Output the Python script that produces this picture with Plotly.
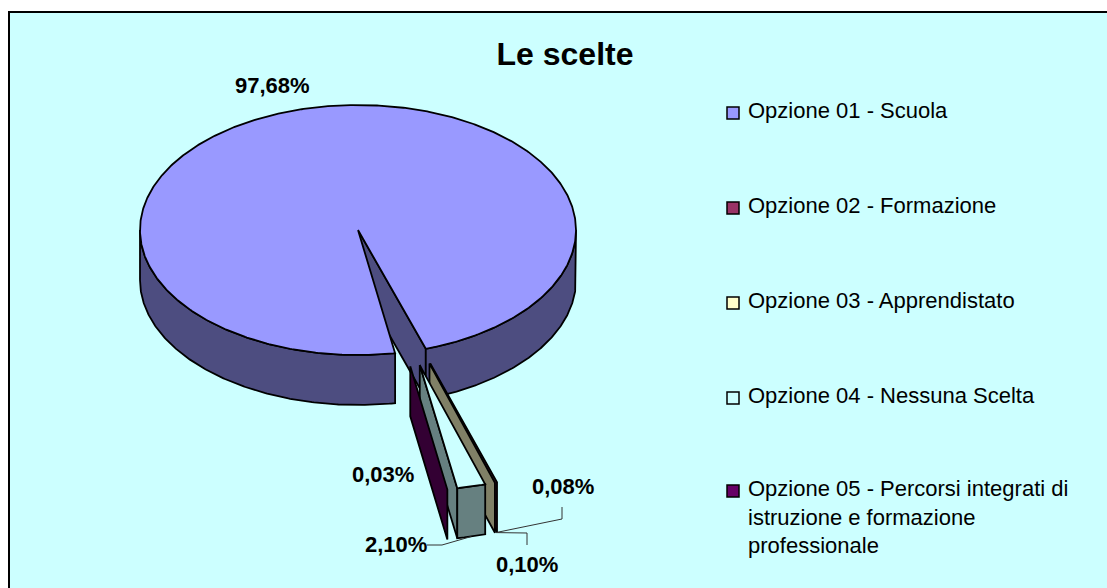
import math
import plotly.graph_objects as go

categories = ["Opzione 01 - Scuola", "Opzione 02 - Formazione", "Opzione 03 - Apprendistato",
              "Opzione 04 - Nessuna Scelta",
              "Opzione 05 - Percorsi integrati di<br>istruzione e formazione<br>professionale"]
values = [97.68, 0.08, 0.10, 2.10, 0.03]
labels = ["97,68%", "0,08%", "0,10%", "2,10%", "0,03%"]
top_colors = ["#9999FF", "#993366", "#FFFFCC", "#CCFFFF", "#660066"]
side_colors = ["#4D4D80", "#4D1A33", "#808066", "#668080", "#330033"]

W, H = 1107, 588
CX, CY, RX, RY, DEPTH = 358.0, 230.0, 218.0, 125.0, 50.0
START_DELTA = 9.8      # degrees right of the bottom point where the first slice starts
EXPLODE = 1.117
BG = "#CCFFFF"

fig = go.Figure()


def pt(delta, ox=0.0, oy=0.0, dz=0.0):
    a = math.radians(delta)
    return CX + ox + RX * math.sin(a), CY + oy + RY * math.cos(a) + dz


def poly(points, fill):
    xs = [p[0] for p in points] + [points[0][0]]
    ys = [p[1] for p in points] + [points[0][1]]
    fig.add_trace(go.Scatter(x=xs, y=ys, mode="lines", fill="toself", fillcolor=fill,
                             line=dict(color="black", width=1.8), showlegend=False,
                             hoverinfo="skip"))


def arc(d0, d1, ox=0.0, oy=0.0, dz=0.0):
    n = max(2, int(abs(d1 - d0) * 2) + 2)
    return [pt(d0 + (d1 - d0) * i / (n - 1), ox, oy, dz) for i in range(n)]


# slice angle ranges, measured as delta (degrees from the bottom, positive to the right);
# going clockwise on screen means delta decreasing
total = sum(values)
spans = []
d = START_DELTA
for v in values:
    sweep = v / total * 360
    spans.append((d, d - sweep))
    d -= sweep

# first slice: gap wall, rim faces, top
s0, s1 = spans[0]
hi = s1 + 360   # right-hand edge of the gap
poly([(CX, CY), pt(hi), pt(hi, dz=DEPTH), (CX, CY + DEPTH)], side_colors[0])
poly(arc(hi, 90) + arc(90, hi, dz=DEPTH), side_colors[0])
poly(arc(s0, -90) + arc(-90, s0, dz=DEPTH), side_colors[0])
poly([(CX, CY)] + arc(s0, s1), top_colors[0])

# exploded slices, drawn right to left so that each overlaps the previous
rim_mid = {}
for i in range(1, len(values)):
    a0, a1 = spans[i][0] + 360, spans[i][1] + 360
    mid = (a0 + a1) / 2
    e = math.radians(15.3 + (mid - 14.7) * 0.6)
    ox, oy = EXPLODE * RX * math.sin(e), EXPLODE * RY * math.cos(e)
    apex = (CX + ox, CY + oy)
    low = min(a0, a1)
    high = max(a0, a1)
    poly([apex, pt(low, ox, oy), pt(low, ox, oy, DEPTH), (apex[0], apex[1] + DEPTH)], side_colors[i])
    if high - low > 0.5:
        poly(arc(low, high, ox, oy) + arc(high, low, ox, oy, DEPTH), side_colors[i])
        poly([apex] + arc(low, high, ox, oy), top_colors[i])
    rim_mid[i] = pt(mid, ox, oy, DEPTH)

# leader lines
leaders = {
    1: [(562, 507), (562, 519)],
    2: [(527, 545), (527, 533)],
    3: [(427, 545), (442, 545)],
}
for i, pts in leaders.items():
    xs = [p[0] for p in pts] + [rim_mid[i][0]]
    ys = [p[1] for p in pts] + [rim_mid[i][1]]
    fig.add_trace(go.Scatter(x=xs, y=ys, mode="lines", line=dict(color="#333333", width=1),
                             showlegend=False, hoverinfo="skip"))

# legend: square keys and their texts
key_x = 733
key_y = [113, 208, 303, 398, 491]
text_x = 747
text_top = [97, 192, 287, 382, 475]
fig.add_trace(go.Scatter(x=[key_x] * len(categories), y=key_y, mode="markers", showlegend=False,
                         hoverinfo="skip",
                         marker=dict(symbol="square", size=12, color=top_colors,
                                     line=dict(color="black", width=1.5))))
for name, y in zip(categories, text_top):
    fig.add_annotation(x=text_x, y=y, text=name, showarrow=False, xanchor="left", yanchor="top",
                       align="left", borderpad=0,
                       font=dict(family="Liberation Sans", size=22, color="black"))

# value labels
label_pos = [(272, 85), (563, 486), (527, 564), (396, 544), (383, 474)]
for txt, (x, y) in zip(labels, label_pos):
    fig.add_annotation(x=x, y=y, text=f"<b>{txt}</b>", showarrow=False,
                       font=dict(family="Liberation Sans", size=22, color="black"))

fig.update_layout(
    width=W, height=H, autosize=False,
    margin=dict(l=0, r=0, t=0, b=0),
    paper_bgcolor="white", plot_bgcolor="white",
    font=dict(family="Liberation Sans", color="black"),
    title=dict(text="<b>Le scelte</b>", x=565 / W, xanchor="center", y=1 - 54 / H, yanchor="middle",
               font=dict(family="Liberation Sans", size=32, color="black")),
    xaxis=dict(range=[0, W], visible=False, fixedrange=True),
    yaxis=dict(range=[H, 0], visible=False, fixedrange=True),
    shapes=[dict(type="rect", layer="below", x0=9, y0=12, x1=W + 5, y1=H + 5,
                 fillcolor=BG, line=dict(color="black", width=2))],
    showlegend=False,
)

fig.write_html("out.html", config={"displayModeBar": False},
               post_script="document.body.style.margin='0';document.documentElement.style.overflow='hidden';")
